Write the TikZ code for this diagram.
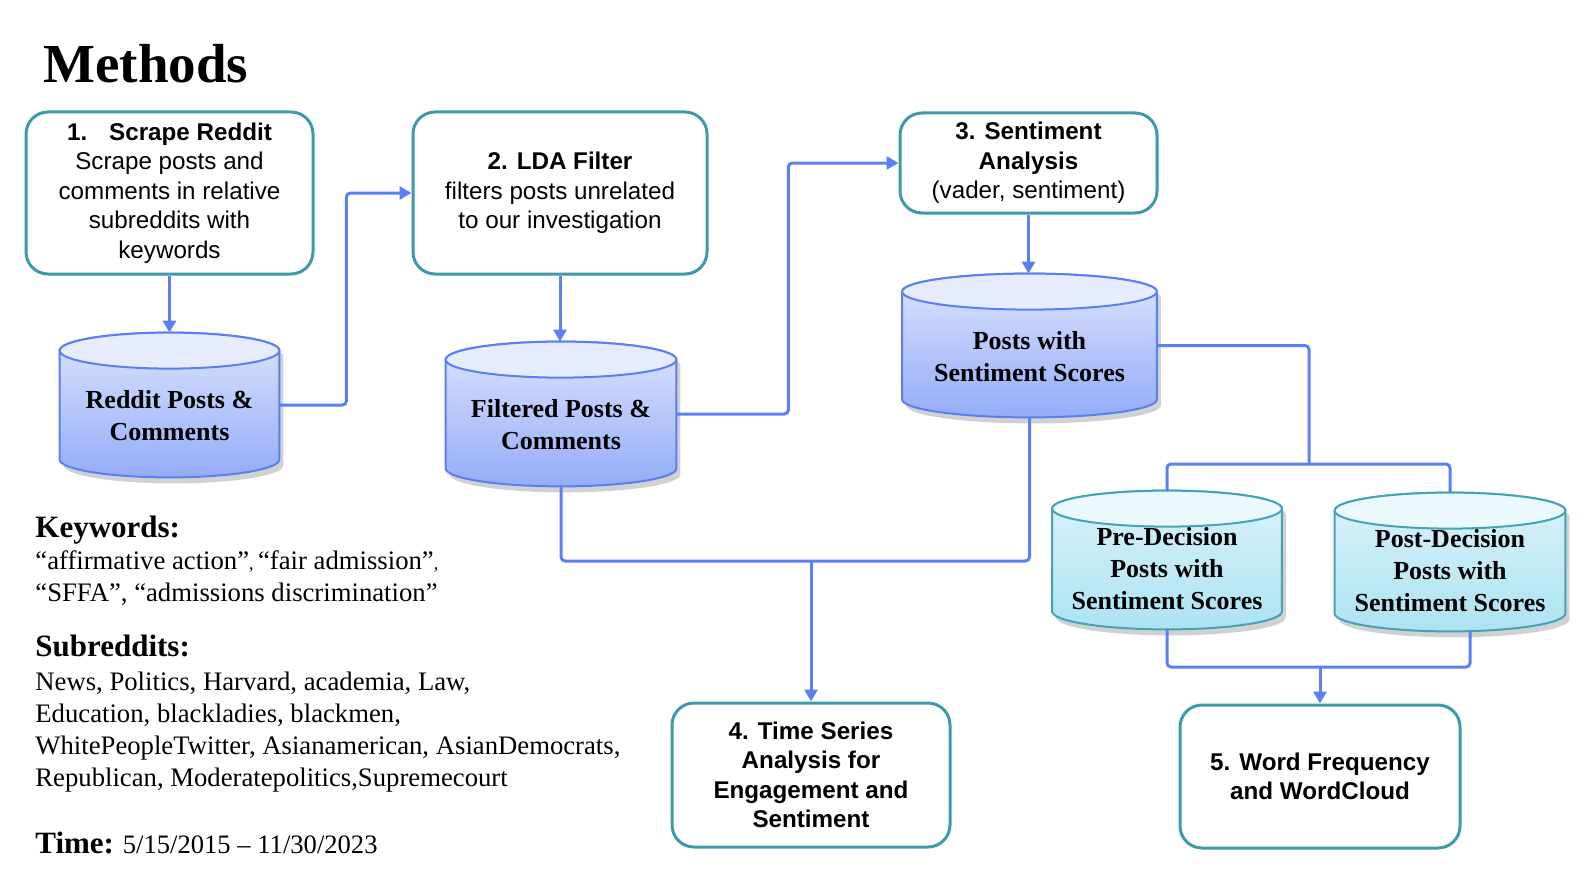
\documentclass[tikz,border=0pt]{standalone}
\usepackage{fontspec}
\setmainfont{Liberation Serif}
\newfontfamily\boxfont{Liberation Sans}
\usetikzlibrary{positioning, arrows.meta, shadows, backgrounds, calc}
\definecolor{boxteal}{HTML}{3E9AA9}
\definecolor{linkblue}{HTML}{5B80F6}
\definecolor{dbedge}{HTML}{5A7FF2}
\definecolor{dbtop}{HTML}{E6ECFD}
\definecolor{dbhi}{HTML}{DCE4FD}
\definecolor{dblo}{HTML}{94ACF8}
\definecolor{cyedge}{HTML}{44A3B5}
\definecolor{cytop}{HTML}{EBF8FC}
\definecolor{cyhi}{HTML}{DAF2F9}
\definecolor{cylo}{HTML}{ADE3F3}

% half height of the cylinder ends
\newcommand{\dbry}{9pt}
% cylinder drawn round the bounding box of a node
\newcommand{\dbdraw}[3]{%
  \path[#2] let \p1=(#1.north west), \p2=(#1.south east) in
    (\x1,\y1-\dbry) -- (\x1,\y2+\dbry)
    arc[start angle=180, end angle=360, x radius={(\x2-\x1)/2}, y radius=\dbry]
    -- (\x2,\y1-\dbry)
    arc[start angle=0, end angle=180, x radius={(\x2-\x1)/2}, y radius=\dbry] -- cycle;
  \path[#3] let \p1=(#1.north west), \p2=(#1.north east) in
    ([yshift=-\dbry]#1.north) ellipse[x radius={(\x2-\x1)/2}, y radius=\dbry];
}

\begin{document}
\begin{tikzpicture}[
  x=0.5pt, y=-0.5pt,
  every node/.style={align=center},
  flow/.style={-{Triangle[length=6pt,width=6.5pt]}, draw=linkblue, line width=1.5pt, rounded corners=2pt},
  link/.style={draw=linkblue, line width=1.5pt, rounded corners=2pt},
  stepbox/.style={draw=boxteal, line width=1.5pt, rounded corners=11pt, fill=white,
                  inner sep=0pt, font=\boxfont\fontsize{12.1}{14.7}\selectfont},
  db/.style={inner sep=0pt},
  dbtext/.style={font=\fontsize{13}{16}\selectfont\bfseries, yshift=-5.5pt},
  dbbody/.style={draw=dbedge, line width=1pt, top color=dbhi, bottom color=dblo,
                 drop shadow={shadow xshift=2pt, shadow yshift=-3pt, opacity=0.3, fill=black!60}},
  dbcap/.style={draw=dbedge, line width=1pt, fill=dbtop},
  cybody/.style={draw=cyedge, line width=1pt, top color=cyhi, bottom color=cylo,
                 drop shadow={shadow xshift=2pt, shadow yshift=-3pt, opacity=0.3, fill=black!60}},
  cycap/.style={draw=cyedge, line width=1pt, fill=cytop},
  side/.style={anchor=base west, inner sep=0pt, align=left},
  sidehead/.style={side, font=\fontsize{15.5}{18}\selectfont\bfseries},
]
\useasboundingbox (0,0) rectangle (1589,888);

% ---------- title ----------
\node[anchor=base west, inner sep=0pt, font=\fontsize{27.5}{33}\selectfont\bfseries] (title) at (43,83) {Methods};

% ---------- steps ----------
\node[stepbox, minimum width=143.5pt, minimum height=81pt] (scrape) at (169.5,193)
  {\textbf{1.\hspace{11pt}Scrape Reddit}\\Scrape posts and\\comments in relative\\subreddits with\\keywords};
\node[stepbox, minimum width=147pt, minimum height=81pt] (lda) at (560,193)
  {\textbf{2. LDA Filter}\\filters posts unrelated\\to our investigation};
\node[stepbox, minimum width=128.5pt, minimum height=50pt] (senti) at (1028.5,163)
  {\textbf{3. Sentiment}\\\textbf{Analysis}\\(vader, sentiment)};
\node[stepbox, minimum width=139pt, minimum height=72pt, font=\boxfont\fontsize{12.1}{14.7}\selectfont\bfseries] (series) at (811,775)
  {4. Time Series\\Analysis for\\Engagement and\\Sentiment};
\node[stepbox, minimum width=140pt, minimum height=71.5pt, font=\boxfont\fontsize{12.1}{14.7}\selectfont\bfseries] (wordfreq) at (1320,776.5)
  {5. Word Frequency\\and WordCloud};

% ---------- data stores ----------
\node[db, minimum width=109.5pt, minimum height=72pt,
  label={[dbtext]center:{Reddit Posts \&\\Comments}}] (posts) at (169.5,405) {};
\node[db, minimum width=115pt, minimum height=72pt,
  label={[dbtext]center:{Filtered Posts \&\\Comments}}] (filtered) at (561,414) {};
\node[db, minimum width=127pt, minimum height=71.5pt,
  label={[dbtext]center:{Posts with\\Sentiment Scores}}] (scored) at (1029.5,345.5) {};
\node[db, minimum width=114.5pt, minimum height=69pt,
  label={[dbtext, yshift=1pt]center:{Pre-Decision\\Posts with\\Sentiment Scores}}] (prescored) at (1167,560) {};
\node[db, minimum width=115pt, minimum height=69pt,
  label={[dbtext, yshift=1pt]center:{Post-Decision\\Posts with\\Sentiment Scores}}] (postscored) at (1450,562) {};

\begin{pgfonlayer}{background}
  \dbdraw{posts}{dbbody}{dbcap}
  \dbdraw{filtered}{dbbody}{dbcap}
  \dbdraw{scored}{dbbody}{dbcap}
  \dbdraw{prescored}{cybody}{cycap}
  \dbdraw{postscored}{cybody}{cycap}
\end{pgfonlayer}

% ---------- arrows ----------
\coordinate (fork) at (1309,464);
\coordinate (join4) at (811,561);
\coordinate (join5) at (1320,667);

\draw[flow] (scrape.south) -- (posts.north);
\draw[flow] (posts.east) -- ++(67,0) |- (lda.west);
\draw[flow] (lda.south) -- (lda.south |- filtered.north);
\draw[flow] (filtered.east) -- ++(112,0) |- (senti.west);
\draw[flow] (senti.south) -- (senti.south |- scored.north);
\draw[link] (scored.east) -| (fork);
\draw[link] (prescored.north) |- (fork) -| (postscored.north);
\draw[link] (filtered.south) |- (join4) -| (scored.south);
\draw[flow] (join4) -- (series.north);
\draw[link] (prescored.south) |- (join5) -| ([xshift=10pt]postscored.south);
\draw[flow] (join5) -- (wordfreq.north);

% ---------- left notes ----------
\node[sidehead] (kwhead) at (35,537) {Keywords:};
\node[side, font=\fontsize{13.35}{15.7}\selectfont] (kwlist) at (35,601)
  {“affirmative action”{\fontsize{9}{9}\selectfont,}\,“fair admission”{\fontsize{9}{9}\selectfont,}\\“SFFA”, “admissions discrimination”};
\node[sidehead] (subhead) at (35,656) {Subreddits:};
\node[side, font=\fontsize{13.35}{15.9}\selectfont] (sublist) at (35,786)
  {News, Politics, Harvard, academia, Law,\\Education, blackladies, blackmen,\\WhitePeopleTwitter, Asianamerican, AsianDemocrats,\\Republican, Moderatepolitics,Supremecourt};
\node[side, font=\fontsize{13.3}{15.9}\selectfont] (time) at (35,853)
  {{\fontsize{15.5}{18}\selectfont\bfseries Time:} 5/15/2015 – 11/30/2023};

\end{tikzpicture}
\end{document}
